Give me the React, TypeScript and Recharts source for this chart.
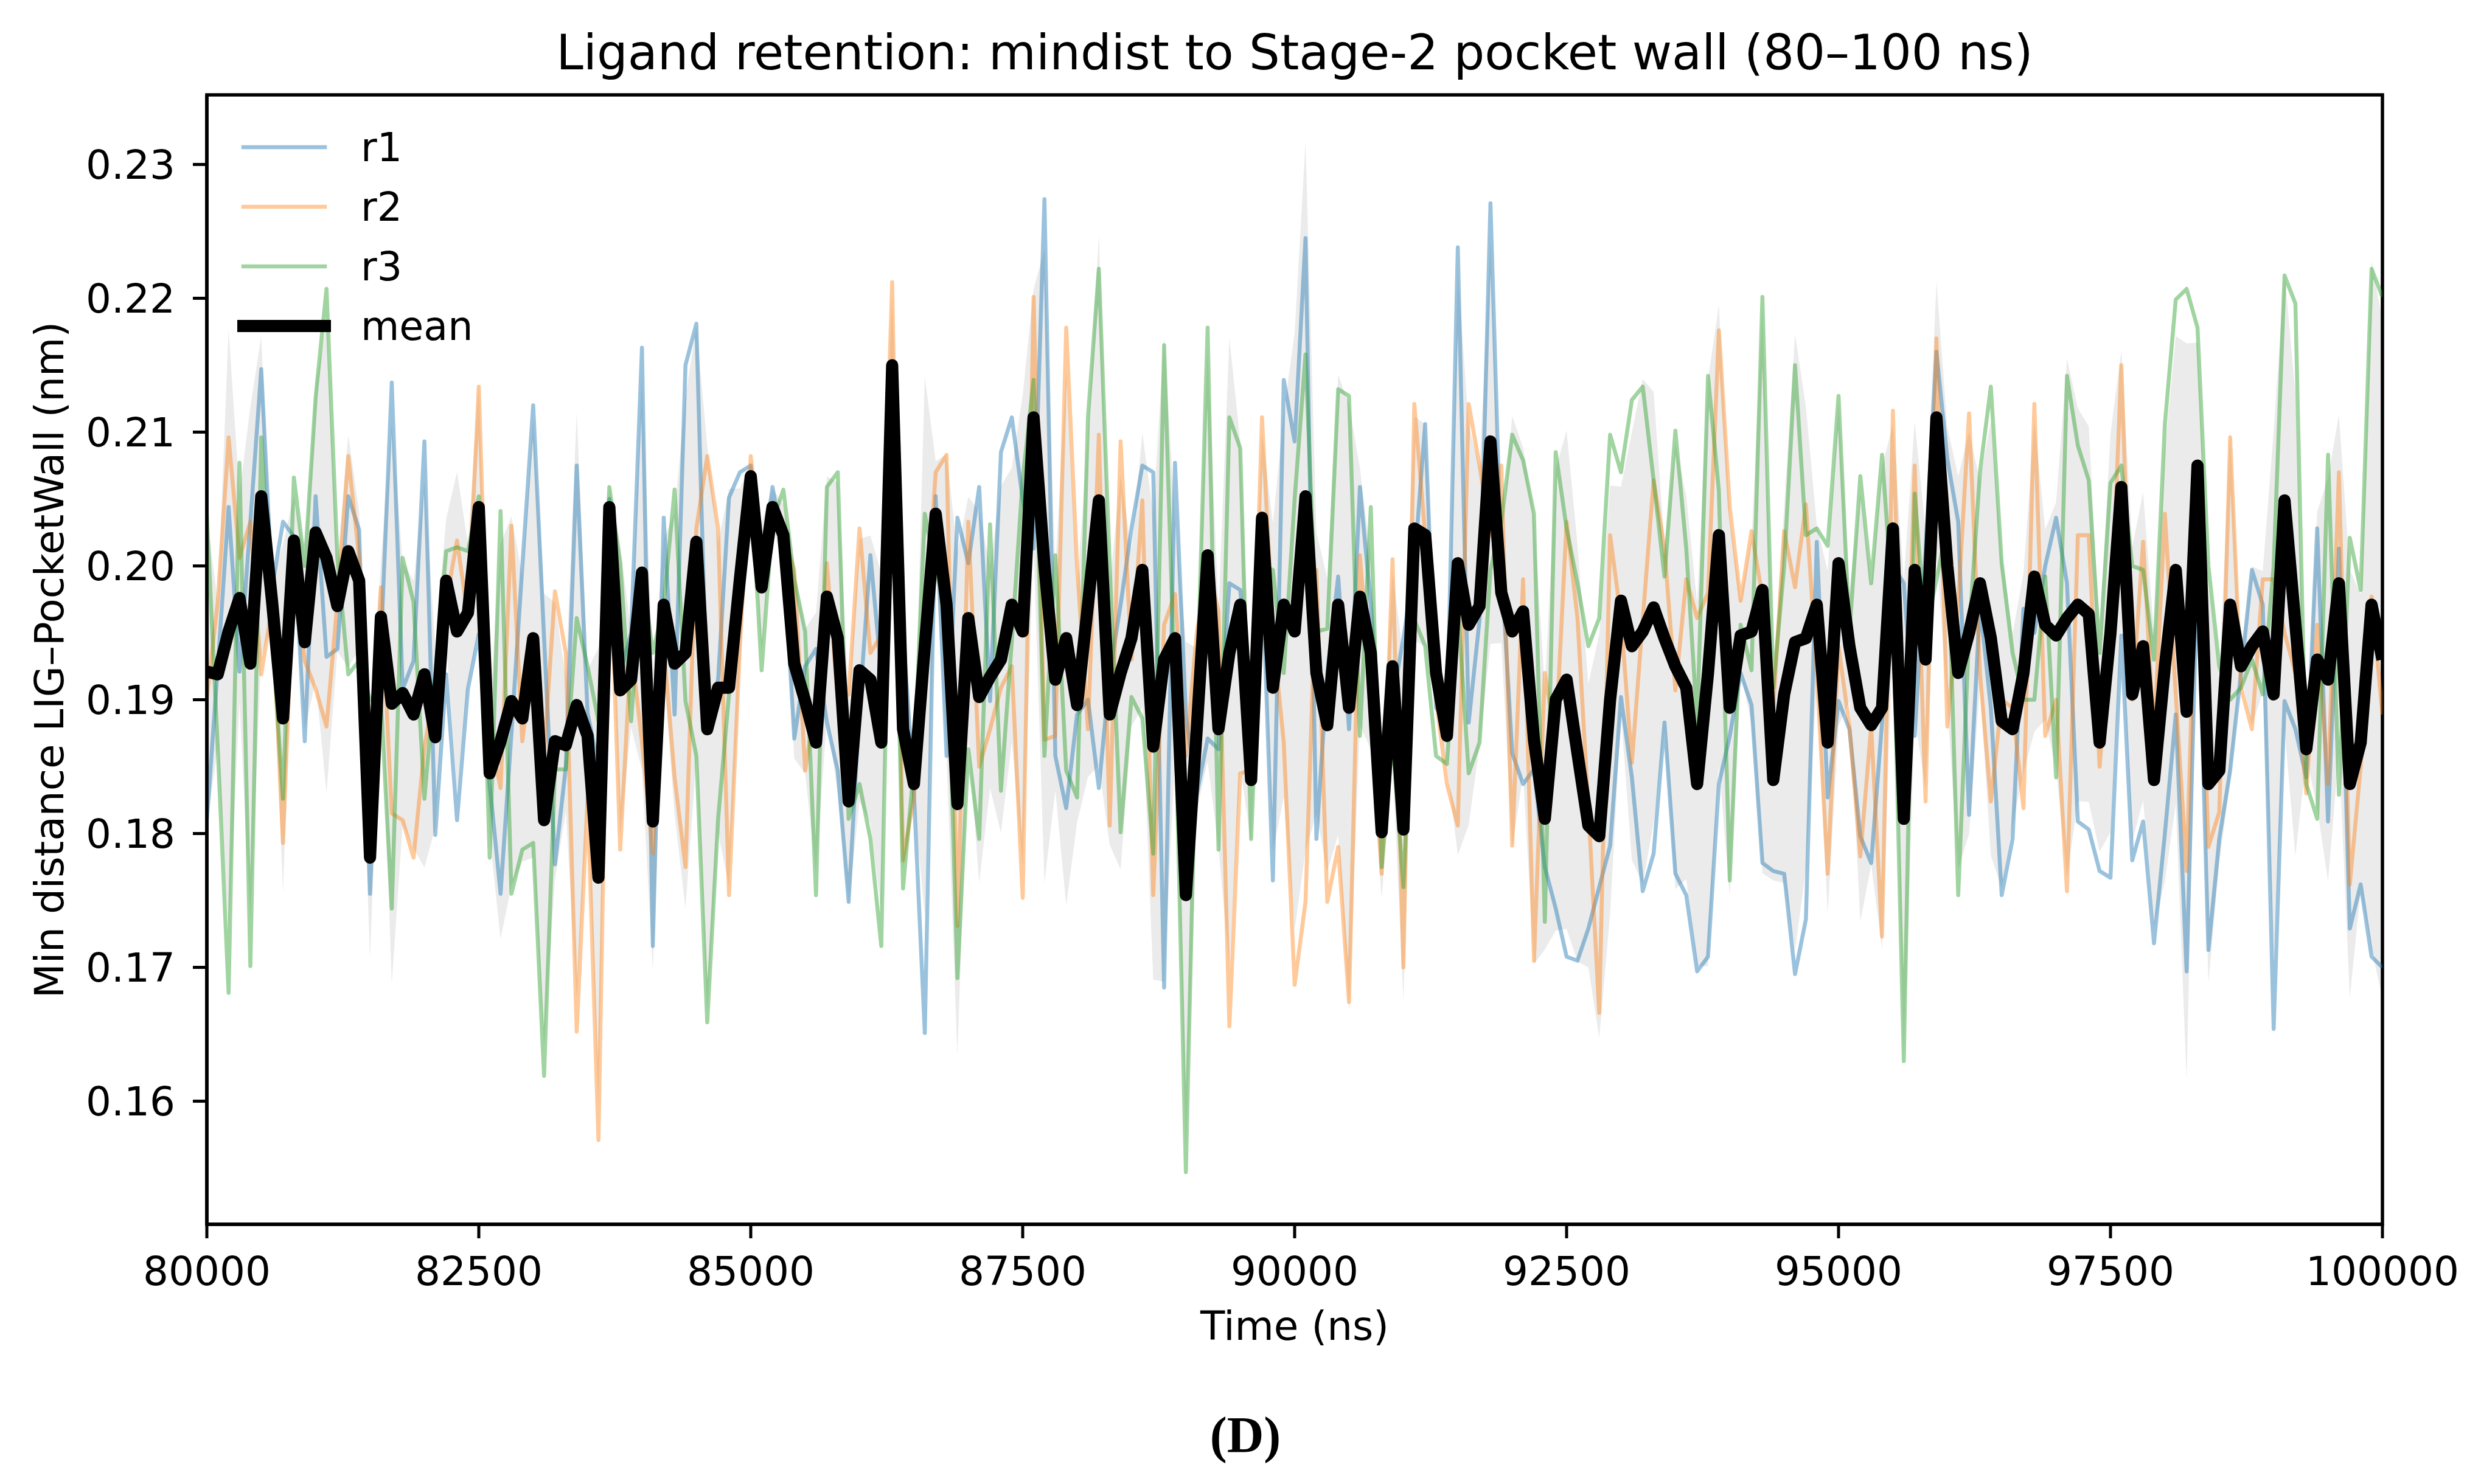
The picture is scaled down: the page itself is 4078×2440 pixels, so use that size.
import React from "react";
import {
  Area,
  ComposedChart,
  Legend,
  Line,
  ReferenceArea,
  XAxis,
  YAxis,
} from "recharts";

// sampling grid: one frame every 100 ns from 80000 ns
const T_START = 80000;
const T_STEP = 100;

const X_TICKS = [80000, 82500, 85000, 87500, 90000, 92500, 95000, 97500, 100000];
const Y_TICKS = [0.16, 0.17, 0.18, 0.19, 0.2, 0.21, 0.22, 0.23];
const Y_DOMAIN = [0.1508, 0.2352];

const r1 = [
  0.1810, 0.1924, 0.2044, 0.1921, 0.2033, 0.2147, 0.1984, 0.2033, 0.2022, 0.1869,
  0.2052, 0.1932, 0.1938, 0.2052, 0.2027, 0.1755, 0.1940, 0.2137, 0.1908, 0.1929,
  0.2093, 0.1799, 0.1919, 0.1810, 0.1908, 0.1949, 0.1837, 0.1755, 0.1875, 0.2000,
  0.2120, 0.1946, 0.1777, 0.1850, 0.2075, 0.1890, 0.1850, 0.2050, 0.1920, 0.1950,
  0.2163, 0.1716, 0.2036, 0.1889, 0.2150, 0.2181, 0.1890, 0.1915, 0.2051, 0.2070,
  0.2075, 0.1997, 0.2059, 0.2013, 0.1871, 0.1925, 0.1938, 0.1883, 0.1847, 0.1749,
  0.1894, 0.2008, 0.1920, 0.2120, 0.1950, 0.1830, 0.1651, 0.2052, 0.1858, 0.2036,
  0.2002, 0.2059, 0.1899, 0.2085, 0.2111, 0.2050, 0.2013, 0.2274, 0.1858, 0.1819,
  0.1889, 0.1900, 0.1834, 0.1920, 0.1971, 0.2028, 0.2075, 0.2070, 0.1685, 0.2077,
  0.1889, 0.1829, 0.1871, 0.1863, 0.1987, 0.1982, 0.1890, 0.2000, 0.1765, 0.2139,
  0.2093, 0.2245, 0.1796, 0.1920, 0.1992, 0.1878, 0.2059, 0.1971, 0.1858, 0.1900,
  0.1946, 0.2000, 0.2106, 0.1894, 0.1883, 0.2238, 0.1883, 0.1960, 0.2271, 0.2000,
  0.1860, 0.1837, 0.1848, 0.1775, 0.1744, 0.1708, 0.1705, 0.1729, 0.1760, 0.1791,
  0.1902, 0.1842, 0.1757, 0.1785, 0.1883, 0.1770, 0.1754, 0.1697, 0.1708, 0.1837,
  0.1873, 0.1920, 0.1896, 0.1778, 0.1772, 0.1770, 0.1695, 0.1736, 0.2018, 0.1827,
  0.1899, 0.1878, 0.1798, 0.1778, 0.1883, 0.2000, 0.1987, 0.1873, 0.2013, 0.2160,
  0.2080, 0.2033, 0.1814, 0.1971, 0.1894, 0.1754, 0.1796, 0.1968, 0.1950, 0.2000,
  0.2036, 0.1987, 0.1809, 0.1803, 0.1772, 0.1767, 0.1948, 0.1780, 0.1809, 0.1718,
  0.1800, 0.1889, 0.1697, 0.2000, 0.1713, 0.1796, 0.1847, 0.1920, 0.1997, 0.1971,
  0.1654, 0.1899, 0.1878, 0.1842, 0.2028, 0.1809, 0.2013, 0.1729, 0.1762, 0.1708,
  0.1700,
];

const r2 = [
  0.1902, 0.1973, 0.2096, 0.2006, 0.2033, 0.1919, 0.1970, 0.1793, 0.2000, 0.1929,
  0.1908, 0.1880, 0.1973, 0.2082, 0.2006, 0.1860, 0.1984, 0.1815, 0.1810, 0.1782,
  0.1864, 0.1913, 0.1973, 0.2019, 0.1962, 0.2134, 0.1875, 0.1834, 0.2030, 0.1869,
  0.1935, 0.1859, 0.1981, 0.1935, 0.1652, 0.1827, 0.1571, 0.2028, 0.1788, 0.1940,
  0.1868, 0.1785, 0.1940, 0.1842, 0.1775, 0.2028, 0.2082, 0.2028, 0.1754, 0.1940,
  0.2082, 0.2013, 0.2038, 0.2023, 0.1997, 0.1847, 0.1900, 0.2002, 0.1900, 0.1904,
  0.2028, 0.1935, 0.1948, 0.2212, 0.1780, 0.1827, 0.1940, 0.2070, 0.2083, 0.1731,
  0.2033, 0.1850, 0.1878, 0.1909, 0.1925, 0.1752, 0.2201, 0.1870, 0.1873, 0.2178,
  0.2000, 0.1878, 0.2098, 0.1806, 0.2093, 0.1930, 0.2049, 0.1754, 0.1956, 0.1979,
  0.1858, 0.1950, 0.2000, 0.1966, 0.1656, 0.1845, 0.1847, 0.2111, 0.1950, 0.1868,
  0.1687, 0.1749, 0.1997, 0.1749, 0.1790, 0.1674, 0.2008, 0.1900, 0.1770, 0.2005,
  0.1700, 0.2121, 0.2023, 0.1900, 0.1837, 0.1806, 0.2121, 0.2075, 0.2023, 0.2075,
  0.1791, 0.1990, 0.1705, 0.1920, 0.1870, 0.2033, 0.1961, 0.1820, 0.1666, 0.2023,
  0.1961, 0.1853, 0.1960, 0.2064, 0.2013, 0.1907, 0.1990, 0.1961, 0.1980, 0.2176,
  0.2044, 0.1974, 0.2026, 0.1977, 0.1894, 0.2026, 0.1984, 0.2046, 0.1920, 0.1770,
  0.1940, 0.1880, 0.1783, 0.1880, 0.1723, 0.2116, 0.1820, 0.2075, 0.1824, 0.2170,
  0.1880, 0.1973, 0.2114, 0.1920, 0.1824, 0.1900, 0.1894, 0.1819, 0.2121, 0.1873,
  0.1900, 0.1757, 0.2023, 0.2023, 0.1850, 0.1950, 0.2150, 0.1900, 0.2018, 0.1872,
  0.2039, 0.1904, 0.1772, 0.2050, 0.1790, 0.1816, 0.2096, 0.1909, 0.1878, 0.1990,
  0.1990, 0.1950, 0.1920, 0.1830, 0.1956, 0.1837, 0.2070, 0.1762, 0.1850, 0.1977,
  0.1889,
];

const r3 = [
  0.2038, 0.1864, 0.1681, 0.2077, 0.1701, 0.2096, 0.1950, 0.1826, 0.2066, 0.2000,
  0.2126, 0.2207, 0.2006, 0.1919, 0.1929, 0.1900, 0.1900, 0.1744, 0.2006, 0.1973,
  0.1826, 0.1919, 0.2011, 0.2014, 0.2011, 0.2052, 0.1782, 0.2041, 0.1755, 0.1788,
  0.1793, 0.1619, 0.1848, 0.1848, 0.1961, 0.1925, 0.1884, 0.2059, 0.2002, 0.1884,
  0.1997, 0.1935, 0.1971, 0.2057, 0.1899, 0.1858, 0.1659, 0.1811, 0.1904, 0.1971,
  0.2064, 0.1922, 0.2033, 0.2057, 0.1990, 0.1951, 0.1754, 0.2059, 0.2070, 0.1811,
  0.1837, 0.1796, 0.1716, 0.2120, 0.1759, 0.1850, 0.2039, 0.1995, 0.1972, 0.1692,
  0.1863, 0.1796, 0.2031, 0.1832, 0.1944, 0.2065, 0.2139, 0.1858, 0.2008, 0.1847,
  0.1827, 0.2111, 0.2222, 0.2000, 0.1801, 0.1902, 0.1886, 0.1785, 0.2165, 0.1900,
  0.1547, 0.1900, 0.2178, 0.1788, 0.2111, 0.2088, 0.1796, 0.2000, 0.1997, 0.1920,
  0.2050, 0.2158, 0.1951, 0.1953, 0.2132, 0.2127, 0.1873, 0.2044, 0.1775, 0.1870,
  0.1760, 0.1960, 0.1940, 0.1858, 0.1852, 0.1971, 0.1845, 0.1868, 0.1997, 0.2033,
  0.2098, 0.2079, 0.2039, 0.1734, 0.2085, 0.2028, 0.1987, 0.1940, 0.1961, 0.2098,
  0.2070, 0.2124, 0.2134, 0.2064, 0.1992, 0.2101, 0.2013, 0.1883, 0.2142, 0.2056,
  0.1765, 0.1956, 0.1922, 0.2201, 0.1909, 0.2000, 0.2150, 0.2023, 0.2028, 0.2015,
  0.2127, 0.1950, 0.2067, 0.1987, 0.2083, 0.1968, 0.1630, 0.2054, 0.1950, 0.1990,
  0.2030, 0.1754, 0.1950, 0.2070, 0.2134, 0.2002, 0.1935, 0.1900, 0.1900, 0.1992,
  0.1842, 0.2142, 0.2090, 0.2064, 0.1935, 0.2062, 0.2075, 0.2000, 0.1997, 0.1930,
  0.2106, 0.2199, 0.2207, 0.2178, 0.2000, 0.1925, 0.1900, 0.1909, 0.1930, 0.1904,
  0.2000, 0.2217, 0.2196, 0.1837, 0.1811, 0.2083, 0.1829, 0.2021, 0.1982, 0.2222,
  0.2201,
];

const meanLine = [
  0.1921, 0.1919, 0.1951, 0.1976, 0.1927, 0.2052, 0.1973, 0.1886, 0.2019, 0.1943,
  0.2025, 0.2006, 0.1970, 0.2011, 0.1989, 0.1782, 0.1962, 0.1897, 0.1905, 0.1889,
  0.1919, 0.1872, 0.1989, 0.1951, 0.1965, 0.2044, 0.1845, 0.1869, 0.1899, 0.1886,
  0.1946, 0.1810, 0.1869, 0.1866, 0.1896, 0.1873, 0.1767, 0.2044, 0.1907, 0.1915,
  0.1995, 0.1809, 0.1971, 0.1927, 0.1935, 0.2018, 0.1878, 0.1909, 0.1909, 0.1990,
  0.2067, 0.1984, 0.2044, 0.2023, 0.1927, 0.1899, 0.1868, 0.1977, 0.1946, 0.1824,
  0.1922, 0.1915, 0.1868, 0.2150, 0.1878, 0.1837, 0.1940, 0.2039, 0.1971, 0.1822,
  0.1961, 0.1902, 0.1917, 0.1930, 0.1971, 0.1951, 0.2111, 0.2000, 0.1915, 0.1946,
  0.1896, 0.1971, 0.2049, 0.1889, 0.1920, 0.1946, 0.1997, 0.1865, 0.1930, 0.1946,
  0.1754, 0.1878, 0.2008, 0.1878, 0.1935, 0.1971, 0.1840, 0.2036, 0.1909, 0.1971,
  0.1951, 0.2052, 0.1920, 0.1881, 0.1971, 0.1894, 0.1977, 0.1935, 0.1801, 0.1925,
  0.1803, 0.2028, 0.2023, 0.1920, 0.1873, 0.2002, 0.1956, 0.1970, 0.2093, 0.1980,
  0.1951, 0.1966, 0.1870, 0.1811, 0.1900, 0.1915, 0.1860, 0.1806, 0.1798, 0.1900,
  0.1974, 0.1940, 0.1951, 0.1969, 0.1946, 0.1925, 0.1909, 0.1837, 0.1920, 0.2023,
  0.1894, 0.1948, 0.1951, 0.1982, 0.1840, 0.1904, 0.1943, 0.1946, 0.1971, 0.1868,
  0.2002, 0.1940, 0.1894, 0.1881, 0.1894, 0.2028, 0.1811, 0.1997, 0.1930, 0.2111,
  0.2000, 0.1920, 0.1950, 0.1987, 0.1946, 0.1884, 0.1878, 0.1920, 0.1992, 0.1956,
  0.1948, 0.1961, 0.1971, 0.1964, 0.1868, 0.1950, 0.2059, 0.1904, 0.1940, 0.1840,
  0.1925, 0.1997, 0.1891, 0.2075, 0.1837, 0.1847, 0.1971, 0.1925, 0.1940, 0.1951,
  0.1904, 0.2049, 0.1956, 0.1863, 0.1930, 0.1915, 0.1987, 0.1837, 0.1868, 0.1971,
  0.1930,
];

// mean +/- sample std of the three replicas, drawn as the grey band
const data = meanLine.map((m, i) => {
  const reps = [r1[i], r2[i], r3[i]];
  const avg = (reps[0] + reps[1] + reps[2]) / 3;
  const sd = Math.sqrt(reps.reduce((s, v) => s + (v - avg) ** 2, 0) / 2);
  return {
    t: T_START + i * T_STEP,
    r1: r1[i],
    r2: r2[i],
    r3: r3[i],
    mean: m,
    band: [m - sd, m + sd],
  };
});

const FONT = "DejaVu Sans";

const SERIES = [
  { key: "r1", color: "#1f77b4", opacity: 0.45, width: 6.5 },
  { key: "r2", color: "#ff7f0e", opacity: 0.42, width: 6.5 },
  { key: "r3", color: "#2ca02c", opacity: 0.45, width: 6.5 },
  { key: "mean", color: "#000000", opacity: 1, width: 20 },
];

function LegendBox() {
  return (
    <svg width={700} height={460} style={{ display: "block" }}>
      {SERIES.map((s, i) => {
        const y = 82 + i * 98;
        return (
          <g key={s.key}>
            <line
              x1={60}
              x2={194}
              y1={y}
              y2={y}
              stroke={s.color}
              strokeOpacity={s.opacity}
              strokeWidth={s.width}
              strokeLinecap="square"
            />
            <text x={253} y={y + 23} fontSize={65} fontFamily={FONT} fill="#000">
              {s.key}
            </text>
          </g>
        );
      })}
    </svg>
  );
}

export default function App() {
  return (
    <div
      style={{
        position: "absolute",
        left: 0,
        top: 0,
        width: 4078,
        height: 2440,
        background: "#fff",
        fontFamily: FONT,
        color: "#000",
      }}
    >
      <ComposedChart
        width={4078}
        height={2440}
        data={data}
        margin={{ top: 156, right: 162, bottom: 307, left: 40 }}
      >
        <XAxis
          dataKey="t"
          type="number"
          domain={[80000, 100000]}
          ticks={X_TICKS}
          interval={0}
          allowDataOverflow
          height={120}
          tickSize={23}
          tickMargin={30}
          axisLine={{ stroke: "#000", strokeWidth: 5.5 }}
          tickLine={{ stroke: "#000", strokeWidth: 5 }}
          tick={{ fontSize: 66, fill: "#000", fontFamily: FONT }}
        />
        <YAxis
          type="number"
          domain={Y_DOMAIN}
          ticks={Y_TICKS}
          interval={0}
          allowDataOverflow
          width={300}
          tickSize={23}
          tickMargin={29}
          tickFormatter={(v: number) => v.toFixed(2)}
          axisLine={{ stroke: "#000", strokeWidth: 5.5 }}
          tickLine={{ stroke: "#000", strokeWidth: 5 }}
          tick={{ fontSize: 66, fill: "#000", fontFamily: FONT }}
        />
        <Area
          type="linear"
          dataKey="band"
          stroke="none"
          fill="#cccccc"
          fillOpacity={0.4}
          isAnimationActive={false}
          legendType="none"
        />
        {SERIES.map((s) => (
          <Line
            key={s.key}
            type="linear"
            dataKey={s.key}
            stroke={s.color}
            strokeOpacity={s.opacity}
            strokeWidth={s.width}
            strokeLinejoin="round"
            dot={false}
            activeDot={false}
            isAnimationActive={false}
          />
        ))}
        <ReferenceArea
          x1={80000}
          x2={100000}
          y1={Y_DOMAIN[0]}
          y2={Y_DOMAIN[1]}
          fill="none"
          stroke="#000"
          strokeWidth={5.5}
          ifOverflow="visible"
        />
        <Legend
          content={LegendBox}
          layout="horizontal"
          verticalAlign="middle"
          align="center"
          wrapperStyle={{ left: 340, top: 160, width: 700, height: 460 }}
        />
      </ComposedChart>

      <div
        style={{
          position: "absolute",
          left: 628,
          width: 3000,
          top: 47,
          textAlign: "center",
          fontSize: 80,
          lineHeight: "80px",
          whiteSpace: "nowrap",
        }}
      >
        Ligand retention: mindist to Stage-2 pocket wall (80–100 ns)
      </div>
      <div
        style={{
          position: "absolute",
          left: 1628,
          width: 1000,
          top: 2148,
          textAlign: "center",
          fontSize: 66,
          lineHeight: "66px",
        }}
      >
        Time (ns)
      </div>
      <div
        style={{
          position: "absolute",
          left: 82 - 900,
          width: 1800,
          top: 1085 - 33,
          height: 66,
          textAlign: "center",
          fontSize: 66,
          lineHeight: "66px",
          whiteSpace: "nowrap",
          transform: "rotate(-90deg)",
          transformOrigin: "center",
        }}
      >
        Min distance LIG–PocketWall (nm)
      </div>
      <div
        style={{
          position: "absolute",
          left: 1847,
          width: 400,
          top: 2318,
          textAlign: "center",
          fontSize: 84,
          lineHeight: "84px",
          fontWeight: "bold",
          fontFamily: "Liberation Serif",
        }}
      >
        (D)
      </div>
    </div>
  );
}
